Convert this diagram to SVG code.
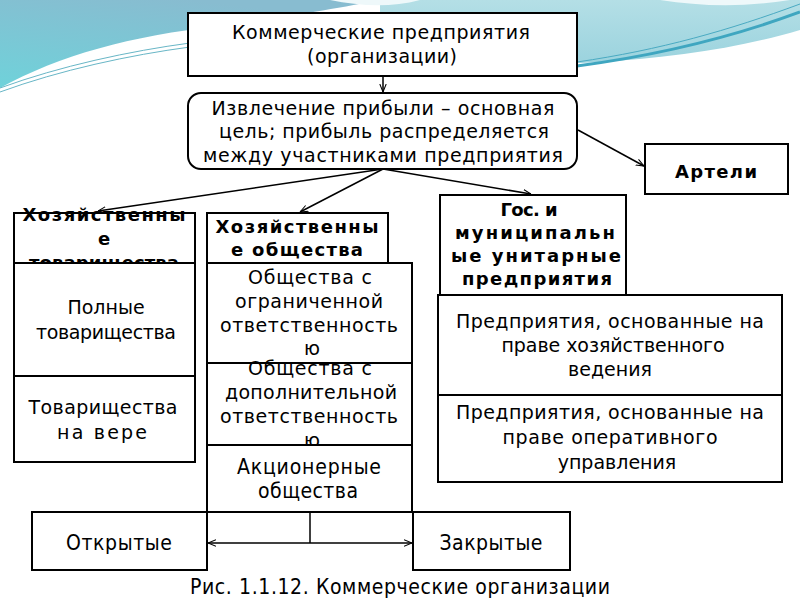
<svg xmlns="http://www.w3.org/2000/svg" width="800" height="600" viewBox="0 0 800 600">
<defs>
<linearGradient id="gL" x1="0" y1="1" x2="0.5" y2="0">
<stop offset="0" stop-color="#6fd2da"/>
<stop offset="1" stop-color="#88bcd0"/>
</linearGradient>
<linearGradient id="gR" x1="0" y1="0" x2="0" y2="1">
<stop offset="0" stop-color="#b4dfe6"/>
<stop offset="1" stop-color="#9bd3de"/>
</linearGradient>
<marker id="ah" viewBox="0 0 10 10" refX="10" refY="5" markerWidth="8" markerHeight="8" orient="auto-start-reverse" markerUnits="userSpaceOnUse">
<path d="M0,1 L10,5 L0,9" fill="none" stroke="#000" stroke-width="1.3"/>
</marker>
<style>
.box{fill:#fff;stroke:#000;stroke-width:2}
.t{font-family:"DejaVu Sans","Liberation Sans",sans-serif;font-size:19px;fill:#000;text-anchor:middle}
.c{font-family:"DejaVu Sans Condensed","DejaVu Sans","Liberation Sans",sans-serif;font-size:21px;fill:#000;text-anchor:middle}
.b{font-family:"DejaVu Sans","Liberation Sans",sans-serif;font-size:18px;font-weight:bold;fill:#000;text-anchor:middle}
.ln{fill:none;stroke:#000;stroke-width:1.5}
</style>
</defs>
<rect width="800" height="600" fill="#fff"/>
<g id="background">
<path d="M0,0 H380 C340,8 280,18 220,26 C130,36 60,55 0,88 Z" fill="url(#gL)"/>
<path d="M380,0 H800 V30 C740,48 670,58 600,62 L560,64 C500,60 420,40 380,30 Z" fill="url(#gR)"/>
<path d="M330,0 C360,6 390,8 420,0 Z" fill="#eef8fa"/>
<path d="M660,0 C700,6 740,8 790,0 Z" fill="#eef8fa"/>
<path d="M577,66 C660,55 730,38 800,12" fill="none" stroke="#3fa6c0" stroke-width="3"/>
<path d="M577,62 C660,50 730,30 800,4" fill="none" stroke="#4aaac2" stroke-width="1"/>
<path d="M0,92 C60,70 130,55 190,47" fill="none" stroke="#68b6c6" stroke-width="1"/>
<path d="M0,88 C60,66 130,51 190,43" fill="none" stroke="#68b6c6" stroke-width="1"/>
</g>
<g id="connectors">
<line class="ln" x1="383" y1="76" x2="383" y2="92" marker-end="url(#ah)"/>
<line class="ln" x1="578" y1="130" x2="644" y2="166" marker-end="url(#ah)"/>
<line class="ln" x1="383" y1="169" x2="98" y2="211" marker-end="url(#ah)"/>
<line class="ln" x1="383" y1="169" x2="300" y2="212" marker-end="url(#ah)"/>
<line class="ln" x1="383" y1="169" x2="531" y2="194" marker-end="url(#ah)"/>
<line class="ln" x1="310" y1="512" x2="310" y2="543"/>
<line class="ln" x1="208" y1="543" x2="412" y2="543" marker-start="url(#ah)" marker-end="url(#ah)"/>
</g>
<g id="n-commercial">
<rect class="box" x="188" y="13" width="389" height="63"/>
<text class="t" x="381" y="39" textLength="298">Коммерческие предприятия</text>
<text class="t" x="382" y="63" textLength="150">(организации)</text>
</g>
<g id="n-profit">
<rect class="box" x="188" y="93" width="389" height="76" rx="13" ry="13"/>
<text class="t" x="383" y="115" textLength="343">Извлечение прибыли – основная</text>
<text class="t" x="384" y="138" textLength="330">цель; прибыль распределяется</text>
<text class="t" x="383" y="162" textLength="360">между участниками предприятия</text>
</g>
<g id="n-arteli">
<rect class="box" x="645" y="144" width="143" height="50"/>
<text class="b" x="716" y="178" font-size="19" textLength="82">Артели</text>
</g>
<g id="n-partnerships">
<rect class="box" x="14" y="213" width="181" height="50"/>
<text class="b" x="104" y="221" textLength="163">Хозяйственны</text>
<text class="b" x="104" y="245">е</text>
<text class="b" x="104" y="269" textLength="150">товарищества</text>
</g>
<g id="n-full">
<rect class="box" x="14" y="263" width="181" height="113"/>
<text class="t" x="106" y="314">Полные</text>
<text class="t" x="106" y="339" textLength="140">товарищества</text>
</g>
<g id="n-faith">
<rect class="box" x="14" y="376" width="181" height="86"/>
<text class="t" x="103" y="414" textLength="149">Товарищества</text>
<text class="t" x="102" y="439" textLength="90">на вере</text>
</g>
<g id="n-companies">
<rect class="box" x="207" y="213" width="181" height="50"/>
<text class="b" x="297" y="233" textLength="163">Хозяйственны</text>
<text class="b" x="297" y="256" textLength="132">е общества</text>
</g>
<g id="n-llc">
<rect class="box" x="207" y="263" width="205" height="100"/>
<text class="t" x="310" y="284" textLength="124">Общества с</text>
<text class="t" x="309" y="308" textLength="148">ограниченной</text>
<text class="t" x="309" y="332" textLength="178">ответственность</text>
<text class="t" x="312" y="355">ю</text>
</g>
<g id="n-alc">
<rect class="box" x="207" y="363" width="205" height="82"/>
<text class="t" x="310" y="375" textLength="124">Общества с</text>
<text class="t" x="311" y="399" textLength="172">дополнительной</text>
<text class="t" x="309" y="423" textLength="178">ответственность</text>
<text class="t" x="312" y="447">ю</text>
</g>
<g id="n-jsc">
<rect class="box" x="207" y="445" width="205" height="67"/>
<text class="c" x="309" y="474" textLength="144">Акционерные</text>
<text class="c" x="308" y="498" textLength="100">общества</text>
</g>
<g id="n-open">
<rect class="box" x="32" y="512" width="175" height="58"/>
<text class="c" x="119" y="550" textLength="106">Открытые</text>
</g>
<g id="n-closed">
<rect class="box" x="413" y="512" width="157" height="58"/>
<text class="c" x="491" y="550" textLength="103">Закрытые</text>
</g>
<g id="n-unitary">
<rect class="box" x="440" y="195" width="186" height="100"/>
<text class="b" x="529" y="216" font-size="19" textLength="57">Гос. и</text>
<text class="b" x="535" y="239" font-size="19" textLength="160">муниципальн</text>
<text class="b" x="536" y="262" font-size="19" textLength="170">ые унитарные</text>
<text class="b" x="537" y="285" font-size="19" textLength="150">предприятия</text>
</g>
<g id="n-economic">
<rect class="box" x="438" y="295" width="344" height="100"/>
<text class="t" x="610" y="328" textLength="308">Предприятия, основанные на</text>
<text class="t" x="613" y="352" textLength="223">праве хозяйственного</text>
<text class="t" x="610" y="376">ведения</text>
</g>
<g id="n-operative">
<rect class="box" x="438" y="395" width="344" height="87"/>
<text class="t" x="610" y="419" textLength="308">Предприятия, основанные на</text>
<text class="t" x="610" y="444" textLength="215">праве оперативного</text>
<text class="t" x="617" y="469">управления</text>
</g>
<g id="caption">
<text class="c" x="400" y="594" textLength="420">Рис. 1.1.12. Коммерческие организации</text>
</g>
</svg>
